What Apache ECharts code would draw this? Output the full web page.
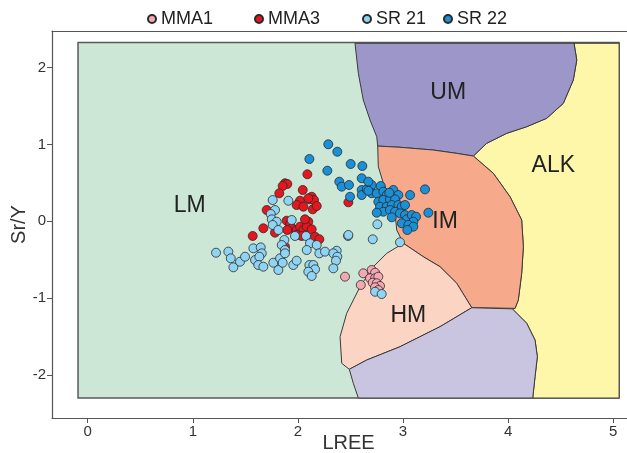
<!DOCTYPE html>
<html><head><meta charset="utf-8">
<script src="https://cdn.jsdelivr.net/npm/echarts@6/dist/echarts.min.js"></script>
<style>html,body{margin:0;padding:0;background:#fff}#c{width:627px;height:453px}</style>
</head><body><div id="c"></div>
<script>
const FONT = '"Liberation Sans", Arial, sans-serif';
const xTicks = [0, 1, 2, 3, 4, 5];
const yTicks = [-2, -1, 0, 1, 2];
const seriesNames = ['MMA1', 'MMA3', 'SR 21', 'SR 22'];

const mma1 = [[2.448,-0.721],[2.622,-0.677],[2.598,-0.829],[2.702,-0.634],[2.734,-0.669],[2.686,-0.742],[2.734,-0.742],[2.765,-0.721],[2.712,-0.799],[2.750,-0.807],[2.781,-0.842],[2.734,-0.859],[2.765,-0.895]];

const mma3 = [[2.090,0.612],[1.877,0.495],[1.899,0.486],[1.855,0.460],[1.823,0.365],[2.046,0.408],[2.020,0.268],[1.988,0.212],[2.052,0.190],[2.109,0.286],[2.131,0.320],[2.153,0.277],[2.141,0.156],[2.179,0.199],[1.703,0.147],[1.671,-0.091],[1.570,-0.191],[1.893,0.008],[1.925,-0.035],[1.941,-0.091],[1.899,-0.113],[1.988,-0.113],[2.020,-0.070],[2.052,-0.113],[2.099,-0.005],[2.084,-0.070],[2.131,-0.104],[2.163,-0.200],[2.204,-0.234],[1.988,-0.178],[2.036,-0.191],[1.782,-0.148],[1.877,-0.330],[2.067,0.026],[2.480,0.247],[2.099,0.299]];

const sr21 = [[1.760,0.277],[1.909,0.268],[1.782,0.147],[1.741,0.095],[1.751,0.026],[1.798,-0.005],[1.760,-0.048],[1.814,-0.113],[1.941,0.017],[1.972,-0.191],[1.871,-0.243],[1.846,-0.309],[1.877,-0.374],[2.077,-0.191],[2.115,-0.286],[2.179,-0.309],[2.084,-0.374],[2.204,-0.417],[2.258,-0.395],[2.369,-0.383],[2.337,-0.417],[2.375,-0.461],[2.362,-0.513],[2.337,-0.612],[2.477,-0.191],[1.221,-0.409],[1.338,-0.395],[1.361,-0.482],[1.386,-0.599],[1.449,-0.526],[1.497,-0.461],[1.592,-0.504],[1.576,-0.352],[1.646,-0.339],[1.656,-0.417],[1.633,-0.461],[1.623,-0.569],[1.671,-0.591],[1.766,-0.539],[1.814,-0.634],[1.830,-0.482],[1.855,-0.539],[1.877,-0.417],[1.956,-0.569],[1.988,-0.513],[2.109,-0.569],[2.147,-0.569],[2.163,-0.625],[2.099,-0.656],[2.131,-0.712],[2.756,-0.039],[2.480,-0.178],[2.712,-0.234],[2.971,-0.273],[2.734,-0.917],[2.797,-0.947]];

const sr22 = [[2.289,1.003],[2.375,0.906],[2.109,0.811],[2.280,0.659],[2.502,0.746],[2.613,0.720],[2.394,0.516],[2.417,0.451],[2.486,0.473],[2.607,0.560],[2.496,0.320],[2.607,0.408],[2.607,0.342],[2.655,0.416],[2.702,0.473],[2.702,0.365],[2.750,0.365],[2.788,0.460],[2.813,0.385],[2.845,0.342],[2.908,0.408],[2.955,0.342],[2.765,0.255],[2.813,0.277],[2.876,0.286],[2.924,0.286],[2.781,0.190],[2.845,0.190],[2.893,0.212],[2.955,0.212],[2.988,0.190],[2.813,0.125],[2.876,0.147],[2.924,0.125],[3.019,0.212],[3.067,0.342],[3.209,0.416],[2.750,0.112],[2.893,0.052],[2.971,0.104],[3.019,0.082],[3.035,0.026],[3.083,0.082],[3.124,0.060],[3.098,-0.005],[2.988,-0.026],[3.051,-0.048],[3.098,-0.070],[3.041,-0.113],[3.241,0.112],[2.670,0.516],[2.670,0.398],[2.870,0.372]];

// Field boundaries (data units)
const fieldLM = [[-0.092,2.328],[5.056,2.328],[5.056,-2.301],[-0.092,-2.301]];
const fieldALK = [[4.627,2.318],[5.056,2.318],[5.056,-2.301],[4.234,-2.301],[4.256,-2.023],[4.278,-1.763],[4.256,-1.546],[4.177,-1.328],[4.040,-1.140],[4.066,-1.133],[4.097,-1.025],[4.129,-0.677],[4.145,-0.331],[4.129,0.017],[4.018,0.320],[3.859,0.625],[3.669,0.850],[3.796,1.016],[3.987,1.146],[4.177,1.232],[4.367,1.341],[4.525,1.536],[4.620,1.840],[4.653,2.100]];
const fieldUM = [[2.543,2.318],[4.627,2.318],[4.653,2.100],[4.620,1.840],[4.525,1.536],[4.367,1.341],[4.177,1.232],[3.987,1.146],[3.796,1.016],[3.669,0.850],[3.511,0.885],[3.289,0.928],[2.971,0.964],[2.759,0.980],[2.750,1.102],[2.686,1.319],[2.622,1.579],[2.575,1.927]];
const fieldIM = [[2.759,0.980],[2.971,0.964],[3.289,0.928],[3.511,0.885],[3.669,0.850],[3.859,0.625],[4.018,0.320],[4.129,0.017],[4.145,-0.331],[4.129,-0.677],[4.097,-1.025],[4.066,-1.133],[3.654,-1.125],[3.511,-0.807],[3.352,-0.591],[3.193,-0.461],[3.003,-0.286],[2.940,-0.113],[2.924,0.104],[2.893,0.277],[2.813,0.495],[2.765,0.711]];
const fieldHM = [[3.003,-0.286],[3.193,-0.461],[3.352,-0.591],[3.511,-0.807],[3.654,-1.125],[3.352,-1.372],[2.971,-1.633],[2.655,-1.806],[2.489,-1.927],[2.417,-1.849],[2.401,-1.503],[2.464,-1.198],[2.591,-0.852],[2.717,-0.591],[2.845,-0.417]];
const fieldLow = [[2.489,-1.927],[2.655,-1.806],[2.971,-1.633],[3.352,-1.372],[3.654,-1.125],[4.040,-1.140],[4.177,-1.328],[4.256,-1.546],[4.278,-1.763],[4.256,-2.023],[4.234,-2.301],[2.575,-2.301],[2.527,-2.109]];

const fieldNames = ['LM', 'ALK', 'UM', 'IM', 'HM', ''];
const fieldLabelPos = [[0.97,0.21],[4.43,0.73],[3.43,1.68],[3.40,-0.01],[3.05,-1.23],[3.4,-1.9]];
const fieldShapes = [fieldLM, fieldALK, fieldUM, fieldIM, fieldHM, fieldLow];
const fieldColors = ['#cde7d6', '#fef6a9', '#9d96c9', '#f6a98b', '#fcd4c3', '#c9c5e1'];

const chart = echarts.init(document.getElementById('c'), null, {renderer: 'canvas'});

function renderField(params, api) {
  const i = params.dataIndex;
  const pts = fieldShapes[i].map(p => api.coord(p));
  const lp = api.coord(fieldLabelPos[i]);
  const children = [{
    type: 'polygon',
    shape: {points: pts},
    style: {fill: fieldColors[i], stroke: i === 0 ? '#5a5a5a' : '#3a3a3a', lineWidth: i === 0 ? 1.5 : 1}
  }];
  if (fieldNames[i]) {
    children.push({
      type: 'text', z2: 10,
      style: {x: lp[0], y: lp[1], text: fieldNames[i], fill: '#222', fontSize: 23,
              fontFamily: FONT, align: 'center', verticalAlign: 'middle'}
    });
  }
  return {type: 'group', children};
}

const pointColors = ['#f4a8b3', '#e5161d', '#8fd4f3', '#1a90d8'];
const pointData = [mma1, mma3, sr21, sr22];
const legendLeft = [147, 254, 362, 443];

const option = {
  animation: false,
  backgroundColor: '#fff',
  textStyle: {fontFamily: FONT},
  grid: {left: 52, right: 0, top: 31, bottom: 35, containLabel: false, outerBoundsMode: 'none'},
  legend: seriesNames.map((n, i) => ({
    data: [n], left: legendLeft[i], top: 10, padding: 0, icon: 'circle',
    itemWidth: 8, itemHeight: 8, selectedMode: false,
    textStyle: {fontSize: 18, color: '#222', fontFamily: FONT}
  })),
  xAxis: [{
    type: 'value', min: -0.3397, max: 5.131, position: 'bottom',
    axisLine: {show: true, onZero: false, lineStyle: {color: '#555', width: 1.2}},
    axisTick: {show: true, customValues: xTicks, length: 5, lineStyle: {color: '#555'}},
    axisLabel: {customValues: xTicks, fontSize: 15, color: '#333', margin: 6, fontFamily: FONT},
    splitLine: {show: false},
    name: 'LREE', nameLocation: 'middle', nameGap: 15, nameMoveOverlap: false,
    nameTextStyle: {fontSize: 20, color: '#333', fontFamily: FONT, padding: [0, 0, 0, 18]}
  }, {
    type: 'value', min: -0.3397, max: 5.131, position: 'top',
    axisLine: {show: true, onZero: false, lineStyle: {color: '#555', width: 1.2}},
    axisTick: {show: false}, axisLabel: {show: false}, splitLine: {show: false}
  }],
  yAxis: {
    type: 'value', min: -2.561, max: 2.478,
    axisLine: {show: true, onZero: false, lineStyle: {color: '#555', width: 1.2}},
    axisTick: {show: true, customValues: yTicks, length: 5, lineStyle: {color: '#555'}},
    axisLabel: {customValues: yTicks, fontSize: 15, color: '#333', margin: 6, fontFamily: FONT},
    splitLine: {show: false},
    name: 'Sr/Y', nameLocation: 'middle', nameGap: 23, nameMoveOverlap: false,
    nameTextStyle: {fontSize: 20, color: '#333', fontFamily: FONT}
  },
  series: [{
    type: 'custom', name: 'fields', z: 1, clip: false, silent: true,
    renderItem: renderField,
    data: fieldLabelPos
  }].concat(seriesNames.map((n, i) => ({
    type: 'scatter', name: n, z: 3 + i,
    symbol: 'circle', symbolSize: 9,
    itemStyle: {color: pointColors[i], borderColor: '#2a2a2a', borderWidth: 0.8, opacity: 1},
    data: pointData[i]
  })))
};
chart.setOption(option);
</script>
</body></html>
